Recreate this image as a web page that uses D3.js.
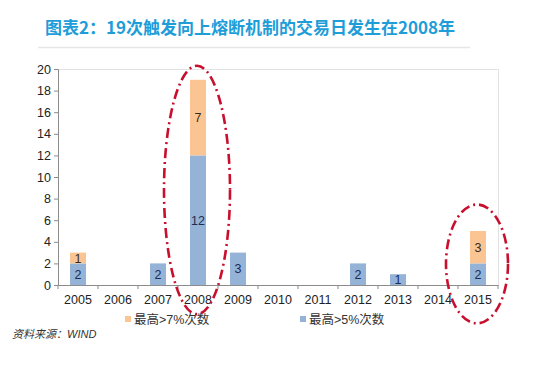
<!DOCTYPE html>
<html><head><meta charset="utf-8">
<script src="https://cdn.jsdelivr.net/npm/d3@7/dist/d3.min.js"></script>
<style>
body{margin:0;background:#fff;}
svg{display:block;}
</style></head>
<body>
<svg id="c" width="550" height="365"></svg>
<script>
const years = ["2005","2006","2007","2008","2009","2010","2011","2012","2013","2014","2015"];
const over5 = [2,0,2,12,3,0,0,2,1,0,2];
const over7 = [1,0,0,7,0,0,0,0,0,0,3];
const seriesNames = ["最高>7%次数","最高>5%次数"];
const yTicks = [0,2,4,6,8,10,12,14,16,18,20];
const title = "图表2：19次触发向上熔断机制的交易日发生在2008年";
const source = "资料来源：WIND";
// annotation ellipses: [year, centre value, half-height in values]
const rings = [["2008", 8.8, 11.5], ["2015", 1.95, 5.5]];

const svg = d3.select("#c");
const numFont = "'Liberation Sans', Arial, sans-serif";
const cjkFont = "'Liberation Sans', 'Noto Sans CJK SC', sans-serif";
const colBlue = "#95b3d7", colOrange = "#fac592";

const L = 58, R = 498, T = 69, B = 285;
const x = d3.scaleBand().domain(years).range([L, R]).paddingInner(0.6).paddingOuter(0.3);
const y = d3.scaleLinear().domain([0, 20]).range([B, T]);

// title
svg.append("text").attr("x", 250).attr("y", 34).attr("text-anchor", "middle")
  .attr("font-family", "'Noto Sans CJK SC', sans-serif").attr("font-weight", "bold")
  .attr("font-size", 17).attr("fill", "#1e9dd8").text(title);
svg.append("line").attr("x1", 38).attr("x2", 470).attr("y1", 47.5).attr("y2", 47.5)
  .attr("stroke", "#e6e6e6").attr("stroke-width", 1.5);

// plot frame (top/right light)
svg.append("path").attr("d", `M${L},${T+0.5}H${R+0.5}V${B}`).attr("fill", "none")
  .attr("stroke", "#e2e2e2");

// bars
const g = svg.append("g");
years.forEach((yr, i) => {
  const bx = x(yr), bw = x.bandwidth();
  if (over5[i] > 0) {
    g.append("rect").attr("x", bx).attr("width", bw).attr("y", y(over5[i])).attr("height", y(0) - y(over5[i])).attr("fill", colBlue);
    g.append("text").attr("x", bx + bw/2).attr("y", (y(0) + y(over5[i]))/2 + 4.5).attr("text-anchor", "middle")
      .attr("font-family", numFont).attr("font-size", 12.5).attr("fill", "#1c2c55").text(over5[i]);
  }
  if (over7[i] > 0) {
    const y0 = y(over5[i]), y1 = y(over5[i] + over7[i]);
    g.append("rect").attr("x", bx).attr("width", bw).attr("y", y1).attr("height", y0 - y1).attr("fill", colOrange);
    g.append("text").attr("x", bx + bw/2).attr("y", (y0 + y1)/2 + 4.5).attr("text-anchor", "middle")
      .attr("font-family", numFont).attr("font-size", 12.5).attr("fill", "#3a2a1a").text(over7[i]);
  }
});

// y axis
const ya = svg.append("g").attr("transform", `translate(${L},0)`)
  .call(d3.axisLeft(y).tickValues(yTicks).tickSize(4).tickPadding(3));
ya.select(".domain").attr("stroke", "#8c8c8c");
ya.selectAll(".tick line").attr("stroke", "#8c8c8c");
ya.selectAll("text").attr("font-family", numFont).attr("font-size", 12.5).attr("fill", "#222");

// x axis
const xa = svg.append("g").attr("transform", `translate(0,${B})`)
  .call(d3.axisBottom(x).tickSize(0).tickPadding(10));
xa.select(".domain").attr("stroke", "#8c8c8c");
xa.selectAll("text").attr("font-family", numFont).attr("font-size", 12.5).attr("fill", "#222");
// boundary ticks
const bounds = years.map(yr => x(yr) - x.step()*x.paddingInner()/2).concat([R]);
xa.selectAll(".bt").data(bounds).enter().append("line")
  .attr("x1", d => d).attr("x2", d => d).attr("y1", 0).attr("y2", 4).attr("stroke", "#8c8c8c");

// legend
const leg = [[125, colOrange, seriesNames[0]], [300, colBlue, seriesNames[1]]];
leg.forEach(([lx, c, t]) => {
  svg.append("rect").attr("x", lx).attr("y", 316).attr("width", 6).attr("height", 6).attr("fill", c);
  svg.append("text").attr("x", lx + 9).attr("y", 324).attr("font-family", cjkFont)
    .attr("font-size", 12.5).attr("fill", "#333").text(t);
});

// source
svg.append("text").attr("x", 12).attr("y", 338).attr("font-family", cjkFont)
  .attr("font-style", "italic").attr("font-size", 11).attr("fill", "#333").text(source);

// red dash-dot ellipses
const rx = [33, 31];
rings.forEach(([yr, cv, hv], i) => {
  svg.append("ellipse").attr("cx", x(yr) + x.bandwidth()/2 - 1).attr("cy", y(cv))
    .attr("rx", rx[i]).attr("ry", y(0) - y(hv)).attr("fill", "none")
    .attr("stroke", "#c8102e").attr("stroke-width", 2.6)
    .attr("stroke-dasharray", "10,4,2,4").attr("stroke-linecap", "butt");
});
</script>
</body></html>
